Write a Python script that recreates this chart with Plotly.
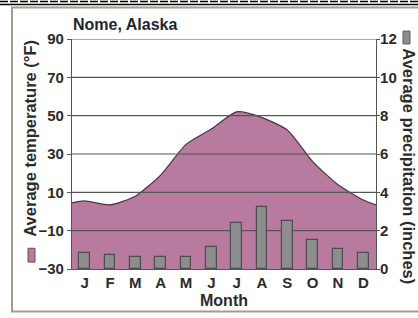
import plotly.graph_objects as go

# ---- data ----
months = ["J", "F", "M", "A", "M", "J", "J", "A", "S", "O", "N", "D"]
temp_f = [5.5, 3.5, 8, 19, 35, 43, 52, 49, 42.5, 26, 14, 6]       # avg temperature (°F)
temp_year_start = 4.5    # value at start of year (left edge)
temp_year_end = 3.4      # value at end of year (right edge)
precip_in = [0.82, 0.74, 0.62, 0.62, 0.62, 1.13, 2.42, 3.25, 2.5, 1.5, 1.03, 0.82]  # inches
temp_ticks = [-30, -10, 10, 30, 50, 70, 90]
precip_ticks = [0, 2, 4, 6, 8, 10, 12]

W, H = 418, 318
L, R, T, B = 72, 42, 39, 46

FONT = "Liberation Sans, Arial, sans-serif"
TXT = "#2b2b2b"
PURPLE = "#b97a9f"
GREY = "#8d8d8d"

n = len(months)
xs = list(range(n))
x_left, x_right = -0.5, n - 0.5
ymin, ymax = temp_ticks[0], temp_ticks[-1]

fig = go.Figure()

# baseline for fill
fig.add_trace(go.Scatter(x=[x_left, x_right], y=[ymin, ymin], mode="lines",
                         line=dict(width=0), showlegend=False, hoverinfo="skip"))
# temperature area
fig.add_trace(go.Scatter(x=[x_left] + xs + [x_right],
                         y=[temp_year_start] + temp_f + [temp_year_end],
                         mode="lines", line=dict(color="#4a3342", width=1.2, shape="spline", smoothing=0.6),
                         fill="tonexty", fillcolor=PURPLE, showlegend=False))
# gridlines drawn above the area
for tv in temp_ticks[1:]:
    fig.add_trace(go.Scatter(x=[x_left, x_right], y=[tv, tv], mode="lines",
                             line=dict(color="#555555", width=1.2), showlegend=False, hoverinfo="skip"))
# precipitation bars
fig.add_trace(go.Bar(x=xs, y=precip_in, yaxis="y2", width=0.43,
                     marker=dict(color=GREY, line=dict(color="#4d4d4d", width=1.2)),
                     showlegend=False))

fig.update_layout(
    width=W, height=H,
    margin=dict(l=L, r=R, t=T, b=B),
    paper_bgcolor="white", plot_bgcolor="white",
    font=dict(family=FONT, color=TXT),
    xaxis=dict(range=[x_left, x_right], tickmode="array", tickvals=xs, ticktext=months,
               showgrid=False, zeroline=False, showline=True, linecolor="#555555", linewidth=1.2,
               ticks="", tickfont=dict(size=15, weight="bold", color=TXT),
               title=dict(text="Month", font=dict(size=16, weight="bold", color=TXT), standoff=4)),
    yaxis=dict(range=[ymin, ymax], tickmode="array", tickvals=temp_ticks,
               showgrid=False, zeroline=False, showline=True, linecolor="#555555", linewidth=1.2,
               ticks="outside", ticklen=4, tickcolor="#555555", tickwidth=1.2,
               tickfont=dict(size=15, weight="bold", color=TXT)),
    yaxis2=dict(range=[precip_ticks[0], precip_ticks[-1]], tickmode="array", tickvals=precip_ticks,
                overlaying="y", side="right", showgrid=False, zeroline=False,
                showline=True, linecolor="#555555", linewidth=1.2,
                ticks="outside", ticklen=3, tickcolor="#555555", tickwidth=1.2,
                tickfont=dict(size=15, weight="bold", color=TXT), ticklabelstandoff=-3),
    bargap=0,
)

def px_x(p):
    return (p - L) / (W - L - R)

def px_y(p):
    return (H - B - p) / (H - T - B)

# title
fig.add_annotation(text="<b>Nome, Alaska</b>", xref="paper", yref="paper",
                   x=px_x(71), y=px_y(24.5), xanchor="left", yanchor="middle",
                   showarrow=False, font=dict(size=16, color="#1e2433"))
# axis titles
fig.add_annotation(text="<b>Average temperature (°F)</b>",
                   xref="paper", yref="paper", x=px_x(30), y=px_y(140),
                   xanchor="center", yanchor="middle",
                   textangle=-90, showarrow=False, font=dict(size=16.5, color=TXT))
fig.add_annotation(text="<b>Average precipitation (inches)</b>",
                   xref="paper", yref="paper", x=px_x(409), y=px_y(168),
                   xanchor="center", yanchor="middle",
                   textangle=90, showarrow=False, font=dict(size=16.5, color=TXT))
# legend swatches
fig.add_shape(type="rect", xref="paper", yref="paper",
              x0=px_x(28), x1=px_x(35), y0=px_y(265), y1=px_y(251),
              fillcolor=PURPLE, line=dict(color="#6a4a5e", width=1))
fig.add_shape(type="rect", xref="paper", yref="paper",
              x0=px_x(403), x1=px_x(410), y0=px_y(44), y1=px_y(31),
              fillcolor=GREY, line=dict(color="#5a5a5a", width=1))

# frame and top rules
fig.add_shape(type="rect", xref="paper", yref="paper",
              x0=px_x(12), x1=px_x(425), y0=px_y(315), y1=px_y(7),
              line=dict(color="#a39c8c", width=2), layer="below")
fig.add_shape(type="line", xref="paper", yref="paper",
              x0=px_x(0), x1=px_x(418), y0=px_y(4), y1=px_y(4),
              line=dict(color="black", width=1.5))
fig.add_shape(type="line", xref="paper", yref="paper",
              x0=px_x(0), x1=px_x(418), y0=px_y(1), y1=px_y(1),
              line=dict(color="black", width=1.5, dash="8px,2px"))

fig.write_html("out.html", config={"displayModeBar": False},
               post_script="document.body.style.margin='0';document.body.style.overflow='hidden';")
